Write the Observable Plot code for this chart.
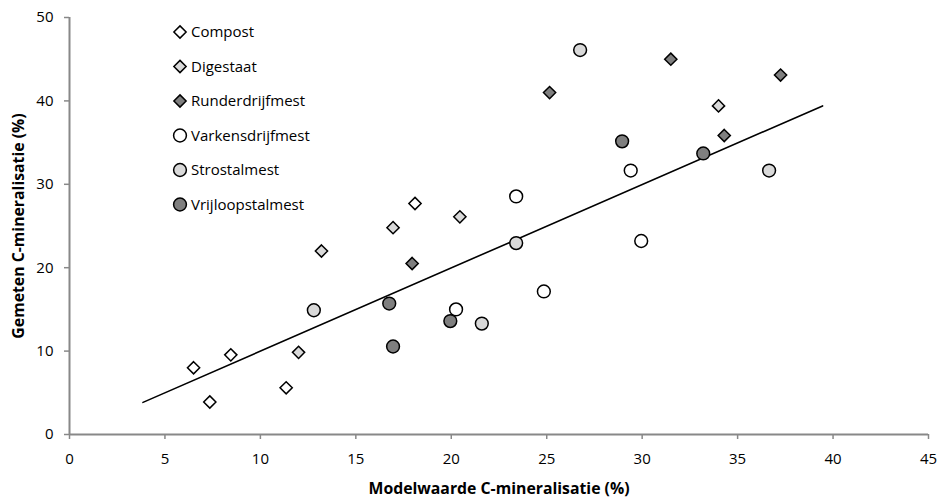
<!DOCTYPE html>
<html>
<head>
<meta charset="utf-8">
<script src="https://cdn.jsdelivr.net/npm/d3@7"></script>
<script src="https://cdn.jsdelivr.net/npm/@observablehq/plot@0.6"></script>
<style>
  html, body { margin: 0; padding: 0; background: #fff; }
  svg { font-family: "Open Sans", sans-serif; }
</style>
</head>
<body>
<div id="chart"></div>
<script>
// ---- data ----
const series = ["Compost", "Digestaat", "Runderdrijfmest", "Varkensdrijfmest", "Strostalmest", "Vrijloopstalmest"];
const seriesSymbol = ["diamond2", "diamond2", "diamond2", "circle", "circle", "circle"];
const seriesFill = ["#ffffff", "#d9d9d9", "#7f7f7f", "#ffffff", "#d9d9d9", "#7f7f7f"];

const compostX = [6.5, 7.35, 8.45, 11.35, 18.1];
const compostY = [8.0, 3.9, 9.55, 5.6, 27.7];
const digestaatX = [12.0, 13.2, 16.95, 20.45, 34.0];
const digestaatY = [9.85, 22.0, 24.8, 26.1, 39.4];
const runderX = [17.95, 25.15, 31.5, 37.25, 34.3];
const runderY = [20.5, 41.0, 45.0, 43.1, 35.85];
const varkensX = [20.25, 24.85, 23.4, 29.4, 29.95];
const varkensY = [15.0, 17.15, 28.55, 31.65, 23.2];
const strostalX = [12.8, 21.6, 23.4, 26.75, 36.65];
const strostalY = [14.9, 13.3, 22.95, 46.1, 31.65];
const vrijloopX = [16.75, 16.95, 19.95, 28.95, 33.2];
const vrijloopY = [15.7, 10.55, 13.6, 35.15, 33.7];

const trendX = [3.85, 39.45];
const trendY = [3.85, 39.4];

const xTicks = [0, 5, 10, 15, 20, 25, 30, 35, 40, 45];
const yTicks = [0, 10, 20, 30, 40, 50];
const xTitle = "Modelwaarde C-mineralisatie (%)";
const yTitle = "Gemeten C-mineralisatie (%)";

// ---- build table ----
const seriesX = [compostX, digestaatX, runderX, varkensX, strostalX, vrijloopX];
const seriesY = [compostY, digestaatY, runderY, varkensY, strostalY, vrijloopY];
const points = [];
series.forEach((s, i) => seriesX[i].forEach((x, j) => points.push({series: s, x, y: seriesY[i][j], idx: i})));
const trend = trendX.map((x, i) => ({x, y: trendY[i]}));

const axisColor = "#888888";

const dotMarks = series.map((s, i) => Plot.dot(points.filter(d => d.idx === i), {
  x: "x", y: "y",
  symbol: () => seriesSymbol[i],
  r: seriesSymbol[i] === "circle" ? 6.4 : 5.5,
  fill: seriesFill[i],
  stroke: "#000",
  strokeWidth: 1.5
}));

const chart = Plot.plot({
  width: 940,
  height: 498,
  marginLeft: 69,
  marginRight: 12,
  marginTop: 17,
  marginBottom: 64,
  style: {fontFamily: "'Open Sans', sans-serif", fontSize: "15px", color: "#000", background: "#fff"},
  x: {domain: [0, 45], ticks: xTicks},
  y: {domain: [0, 50], ticks: yTicks},
  symbol: {type: "identity"},
  marks: [
    Plot.axisX({ticks: xTicks, tickSize: 5, tickPadding: 14, label: null, stroke: axisColor, strokeWidth: 1.5, fill: "#000", fontSize: 15}),
    Plot.axisY({ticks: yTicks, tickSize: 5, tickPadding: 11, label: null, stroke: axisColor, strokeWidth: 1.5, fill: "#000", fontSize: 15}),
    Plot.ruleY([0], {stroke: axisColor, strokeWidth: 2}),
    Plot.ruleX([0], {stroke: axisColor, strokeWidth: 2}),
    Plot.line(trend, {x: "x", y: "y", stroke: "#000", strokeWidth: 1.6}),
    ...dotMarks,
    Plot.text([xTitle], {text: d => d, frameAnchor: "bottom", dy: 54, textAnchor: "middle", lineAnchor: "middle", fontWeight: "bold", fontSize: 15.8, fill: "#000"}),
    Plot.text([yTitle], {text: d => d, frameAnchor: "left", dx: -51, rotate: -90, textAnchor: "middle", lineAnchor: "middle", fontWeight: "bold", fontSize: 15.8, fill: "#000"})
  ]
});

document.getElementById("chart").appendChild(chart);

// ---- legend (inside plot area, top-left) ----
const svg = d3.select(chart.tagName.toLowerCase() === "svg" ? chart : chart.querySelector("svg"));
const lg = svg.append("g").attr("class", "legend").attr("text-anchor", "start");
const symMap = {diamond2: d3.symbolDiamond2, circle: d3.symbolCircle};
series.forEach((s, i) => {
  const cy = 32 + i * 34.5;
  const isCircle = seriesSymbol[i] === "circle";
  const r = isCircle ? 6.4 : 5.5;
  lg.append("path")
    .attr("transform", `translate(180,${cy})`)
    .attr("d", d3.symbol(symMap[seriesSymbol[i]], r * r * Math.PI)())
    .attr("fill", seriesFill[i])
    .attr("stroke", "#000")
    .attr("stroke-width", 1.5);
  lg.append("text")
    .attr("x", 191)
    .attr("y", cy)
    .attr("dy", "0.35em")
    .attr("text-anchor", "start")
    .attr("font-size", 15)
    .attr("fill", "#000")
    .text(s);
});
</script>
</body>
</html>
